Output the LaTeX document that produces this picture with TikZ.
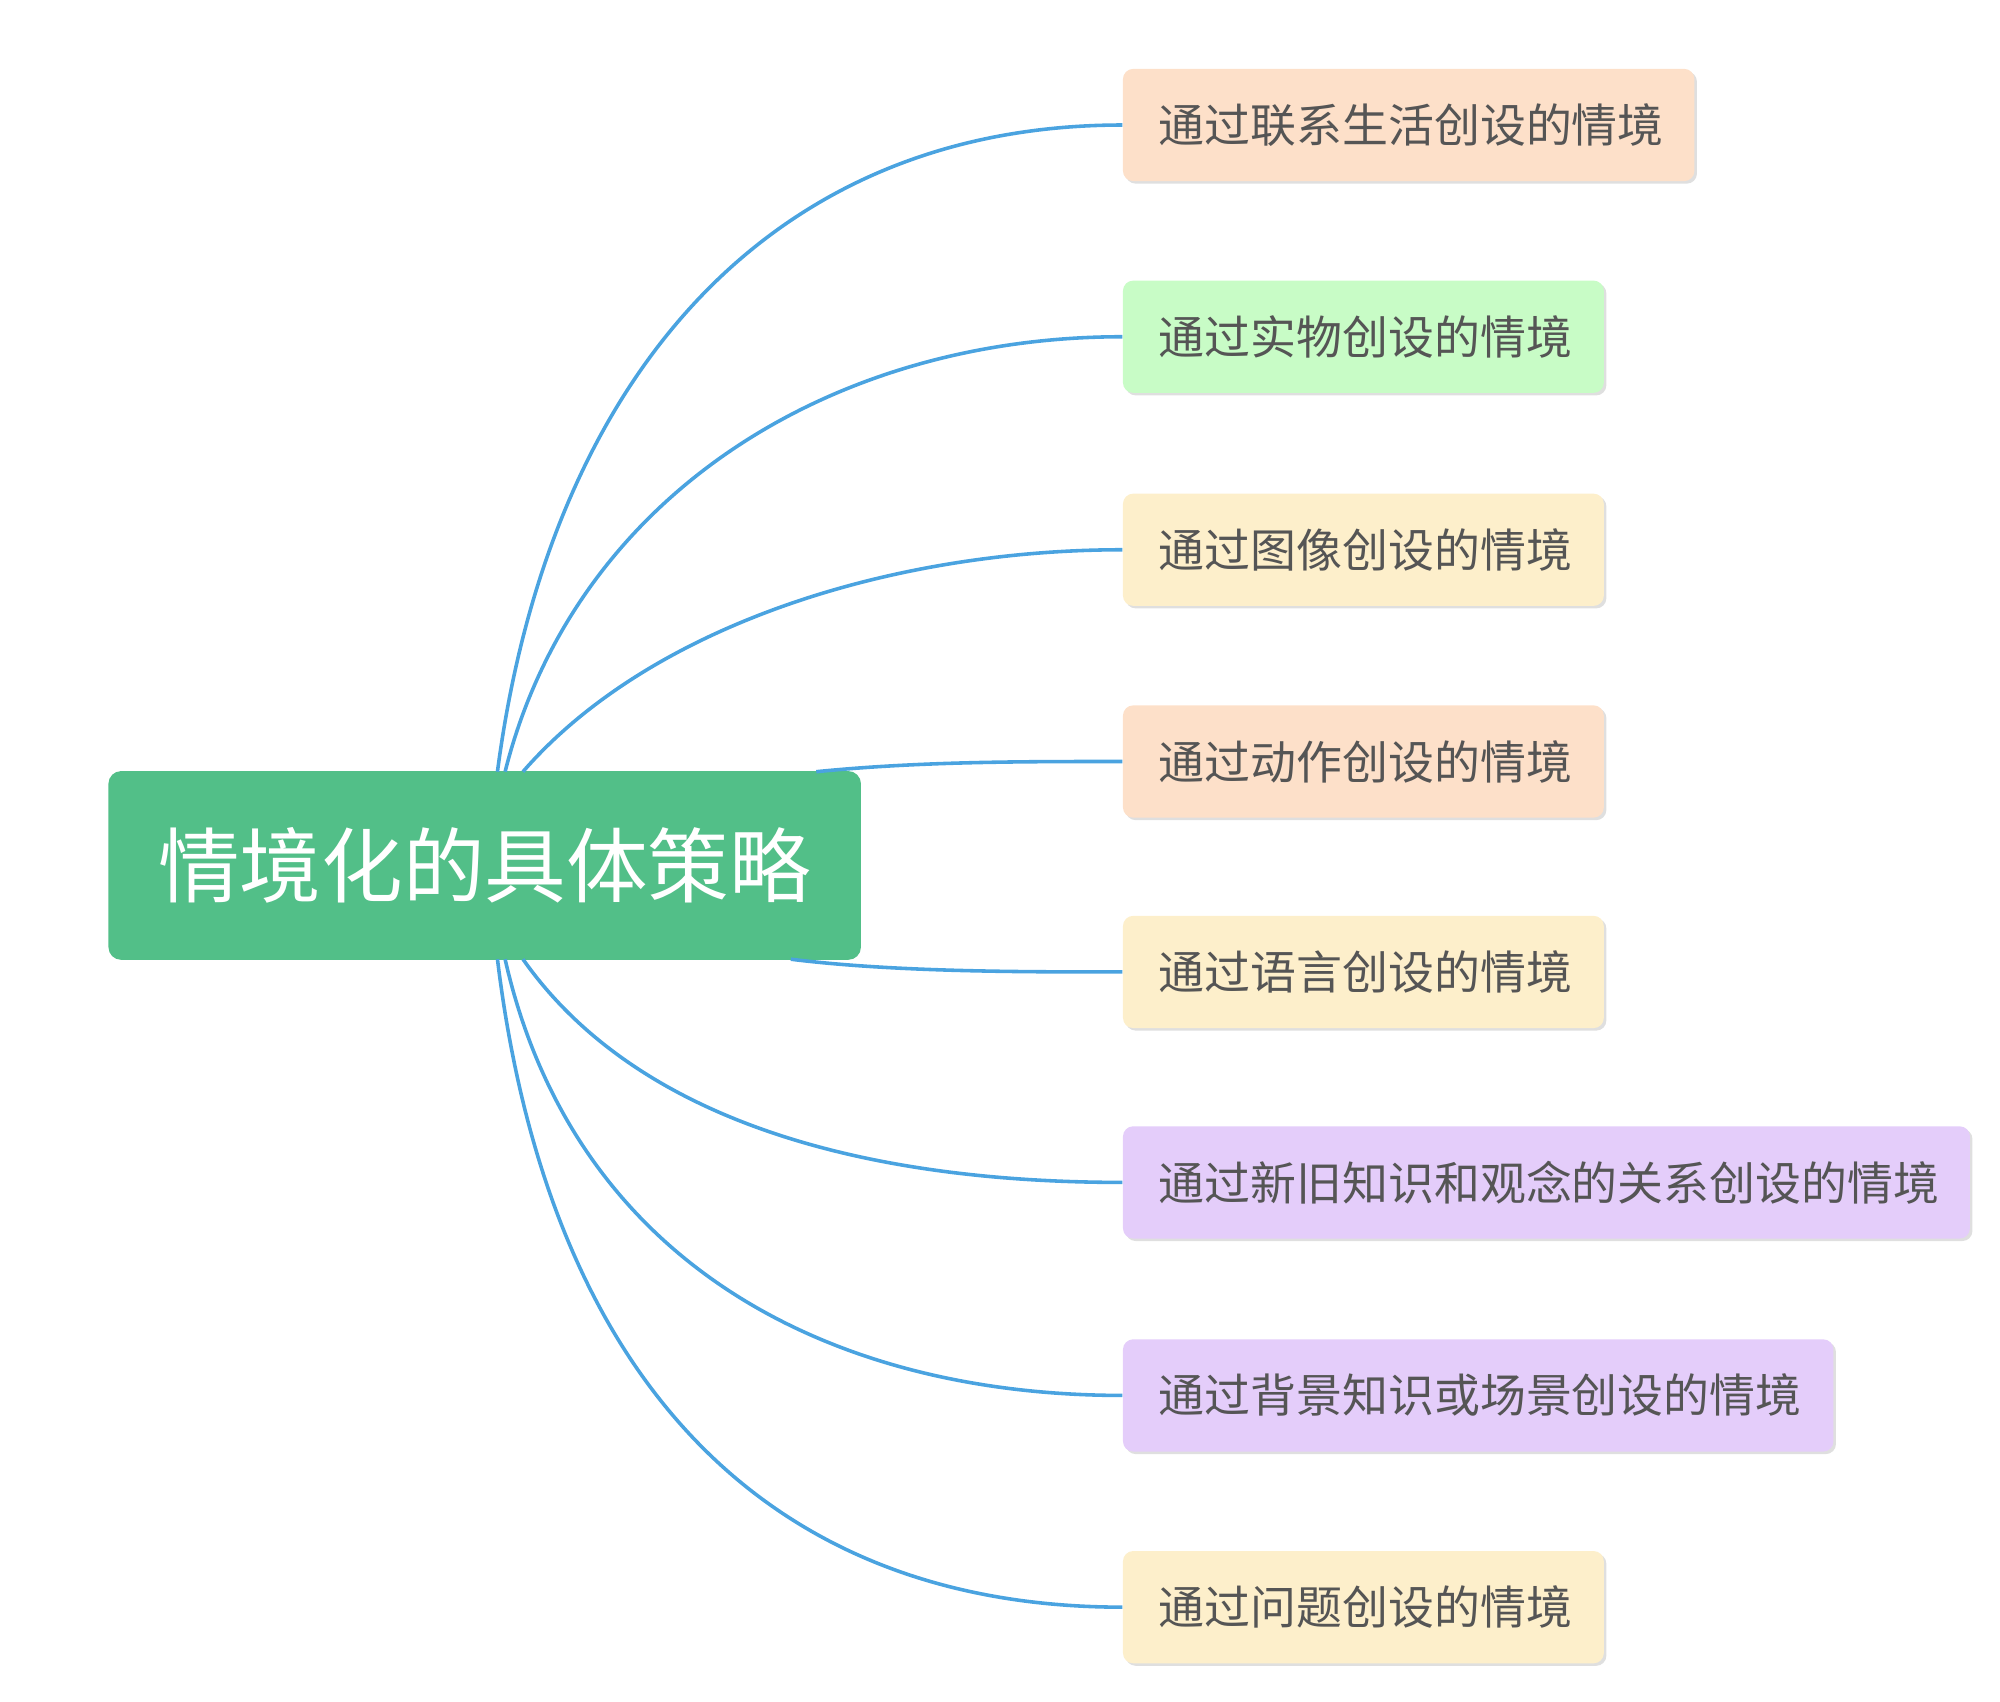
\documentclass[tikz,border=0pt]{standalone}
\usepackage{fontspec}
\newfontfamily\cjk{Noto Sans CJK SC}
\usetikzlibrary{shadows}
\definecolor{rootg}{HTML}{52BF88}
\definecolor{peach}{HTML}{FDE0C9}
\definecolor{lgreen}{HTML}{C8FCC6}
\definecolor{lyel}{HTML}{FDEFCB}
\definecolor{lpur}{HTML}{E4CDFA}
\definecolor{edge}{HTML}{4AA3E0}
\definecolor{txt}{HTML}{555555}
\tikzset{
 child/.style={rounded corners=4pt,inner sep=0pt,minimum height=44pt,anchor=west,text=txt,
   font=\cjk\fontsize{18}{20}\selectfont,drop shadow={shadow xshift=1pt,shadow yshift=-1pt,opacity=0.25},text width=#1, align=left},
 link/.style={draw=edge,line width=1.4pt}
}
\begin{document}
\begin{tikzpicture}[x=0.5pt,y=-0.5pt]
\useasboundingbox (0,0) rectangle (1568,1334);
\node[fill=rootg,rounded corners=5pt,minimum width=295pt,minimum height=74pt,text=white,
  font=\cjk\fontsize{32}{34}\selectfont,inner sep=0pt] (root) at (380,678.5) {情境化的具体策略};
\foreach \n/\y/\w/\c/\t in {
 a/98/448/peach/通过联系生活创设的情境,
 b/264/377/lgreen/通过实物创设的情境,
 c/431/377/lyel/通过图像创设的情境,
 d/597/377/peach/通过动作创设的情境,
 e/762/377/lyel/通过语言创设的情境,
 f/927/664/lpur/通过新旧知识和观念的关系创设的情境,
 g/1094/557/lpur/通过背景知识或场景创设的情境,
 h/1260/377/lyel/通过问题创设的情境}{
 \node[child=\w*0.5pt,fill=\c] (\n) at (880,\y) {\hspace*{14pt}\t};
}
\coordinate (t1) at (390,605);
\coordinate (t2) at (396,605);
\coordinate (t3) at (410,605);
\coordinate (t4) at (640,605);
\coordinate (b5) at (620,752);
\coordinate (b6) at (410,752);
\coordinate (b7) at (396,752);
\coordinate (b8) at (390,752);
\draw[link] (t1) .. controls (430,300) and (600,98) .. (a.west);
\draw[link] (t2) .. controls (450,390) and (650,264) .. (b.west);
\draw[link] (t3) .. controls (510,490) and (700,431) .. (c.west);
\draw[link] (t4) .. controls (720,597) and (800,597) .. (d.west);
\draw[link] (b5) .. controls (700,762) and (800,762) .. (e.west);
\draw[link] (b6) .. controls (500,880) and (680,927) .. (f.west);
\draw[link] (b7) .. controls (450,990) and (650,1094) .. (g.west);
\draw[link] (b8) .. controls (430,1080) and (600,1260) .. (h.west);
\end{tikzpicture}
\end{document}
